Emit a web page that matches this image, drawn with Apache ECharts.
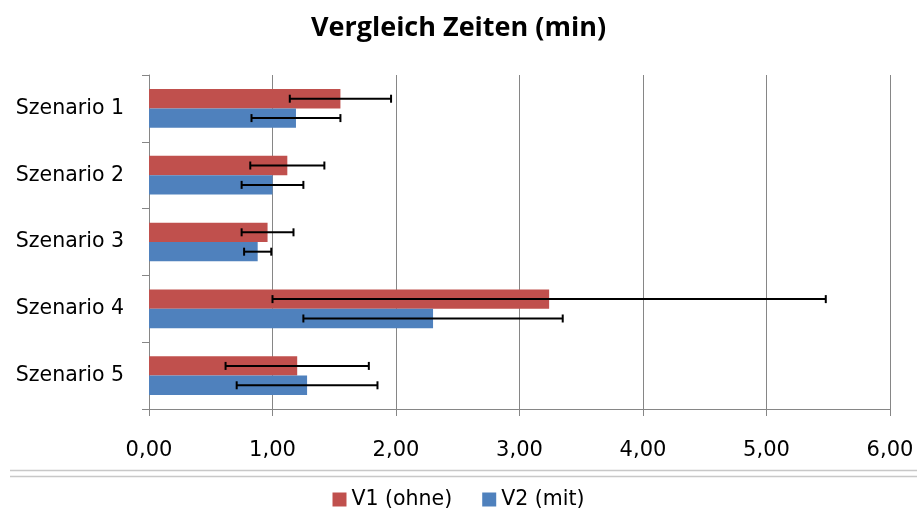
<!DOCTYPE html>
<html>
<head>
<meta charset="utf-8">
<script src="https://cdn.jsdelivr.net/npm/echarts@6/dist/echarts.min.js"></script>
<style>
  html, body { margin: 0; padding: 0; background: #fff; }
  #chart { width: 917px; height: 509px; }
</style>
</head>
<body>
<div id="chart"></div>
<script>
const categories = ['Szenario 1', 'Szenario 2', 'Szenario 3', 'Szenario 4', 'Szenario 5'];
const seriesNames = ['V1 (ohne)', 'V2 (mit)'];
// mean values (min)
const v1Values = [1.55, 1.12, 0.96, 3.24, 1.20];
const v2Values = [1.19, 1.00, 0.88, 2.30, 1.28];
// symmetric error (+/-)
const v1Errors = [0.41, 0.30, 0.21, 2.24, 0.58];
const v2Errors = [0.36, 0.25, 0.11, 1.05, 0.57];

const colors = ['#C0504D', '#4F81BD'];
const FONT = 'DejaVu Sans';
const GAP = 0.42;

const chart = echarts.init(document.getElementById('chart'), null, { renderer: 'canvas' });

// error bar renderer; seriesIdx 0 sits in the upper half of the band, 1 in the lower
function errorBar(seriesIdx) {
  return function (params, api) {
    const cat = api.value(0);
    const lo = api.coord([api.value(1), cat]);
    const hi = api.coord([api.value(2), cat]);
    const band = api.size([0, 1])[1];
    const barW = band * (1 - GAP) / 2;
    const y = lo[1] + (seriesIdx === 0 ? -barW / 2 : barW / 2);
    const cap = 4;
    const style = { stroke: '#000', lineWidth: 2 };
    return {
      type: 'group',
      children: [
        { type: 'line', shape: { x1: lo[0], y1: y, x2: hi[0], y2: y }, style: style },
        { type: 'line', shape: { x1: lo[0], y1: y - cap, x2: lo[0], y2: y + cap }, style: style },
        { type: 'line', shape: { x1: hi[0], y1: y - cap, x2: hi[0], y2: y + cap }, style: style }
      ]
    };
  };
}

function errData(vals, errs) {
  return vals.map(function (v, i) { return [i, v - errs[i], v + errs[i]]; });
}

chart.setOption({
  animation: false,
  title: {
    text: 'Vergleich Zeiten (min)',
    left: 'center',
    top: 10,
    textStyle: { fontFamily: 'Open Sans', fontSize: 27, fontWeight: 'bold', color: '#000' }
  },
  legend: {
    top: 484,
    left: 'center',
    itemWidth: 14,
    itemHeight: 14,
    itemGap: 30,
    icon: 'rect',
    data: seriesNames,
    textStyle: { fontFamily: FONT, fontSize: 20.5, color: '#000' }
  },
  grid: { left: 149, right: 27, top: 75, bottom: 100, containLabel: false },
  xAxis: {
    type: 'value',
    min: 0,
    max: 6,
    interval: 1,
    axisLine: { show: true, lineStyle: { color: '#868686', width: 1 } },
    axisTick: { show: true, length: 7, lineStyle: { color: '#868686' } },
    splitLine: { show: true, lineStyle: { color: '#868686', width: 1 } },
    axisLabel: {
      margin: 31,
      fontFamily: FONT,
      fontSize: 21,
      color: '#000',
      formatter: function (v) { return v.toFixed(2).replace('.', ','); }
    }
  },
  yAxis: {
    type: 'category',
    inverse: true,
    data: categories,
    axisLine: { show: true, lineStyle: { color: '#868686', width: 1 } },
    axisTick: { show: true, length: 7, inside: false, lineStyle: { color: '#868686' } },
    axisLabel: { margin: 25, fontFamily: FONT, fontSize: 20.5, color: '#000' }
  },
  graphic: [
    { type: 'line', shape: { x1: 10, y1: 470.5, x2: 917, y2: 470.5 }, style: { stroke: '#c8c8c8', lineWidth: 1.5 }, silent: true },
    { type: 'line', shape: { x1: 10, y1: 476.5, x2: 917, y2: 476.5 }, style: { stroke: '#c8c8c8', lineWidth: 1.5 }, silent: true }
  ],
  series: [
    {
      name: seriesNames[0], type: 'bar', data: v1Values,
      barCategoryGap: (GAP * 100) + '%', barGap: '0%',
      itemStyle: { color: colors[0] }
    },
    {
      name: seriesNames[1], type: 'bar', data: v2Values,
      barCategoryGap: (GAP * 100) + '%', barGap: '0%',
      itemStyle: { color: colors[1] }
    },
    {
      type: 'custom', name: 'err1', renderItem: errorBar(0),
      data: errData(v1Values, v1Errors), encode: { x: [1, 2], y: 0 }, z: 5
    },
    {
      type: 'custom', name: 'err2', renderItem: errorBar(1),
      data: errData(v2Values, v2Errors), encode: { x: [1, 2], y: 0 }, z: 5
    }
  ]
});
</script>
</body>
</html>
